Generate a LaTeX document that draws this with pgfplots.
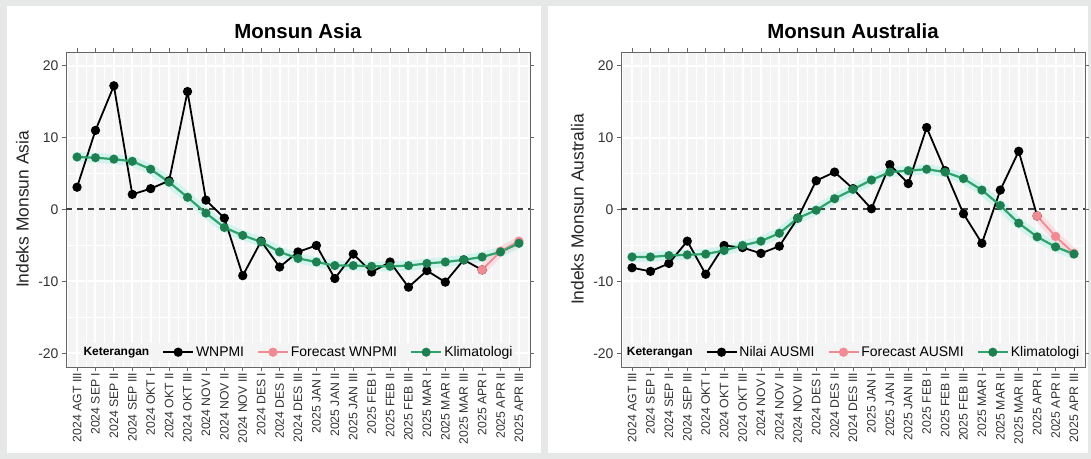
\documentclass[border=0pt]{standalone}
\usepackage{pgfplots}
\usepackage{pgfplotstable}
\pgfplotsset{compat=1.18}
\usepackage{fontspec}
\setmainfont{Liberation Sans}
\definecolor{outerbg}{HTML}{E6E8E7}
\definecolor{panelbg}{HTML}{F4F4F4}
\definecolor{climc}{HTML}{2FA36B}
\definecolor{climdark}{HTML}{1E8050}
\definecolor{fcstc}{HTML}{F08A93}
\definecolor{glowc}{HTML}{BDF2EA}
\definecolor{glowp}{HTML}{FBD0D6}
\definecolor{axgray}{HTML}{666666}
\definecolor{txtgray}{HTML}{333333}

\pgfplotstableread{
i obs fc cl
0 3.1 nan 7.3
1 11.0 nan 7.2
2 17.2 nan 7.0
3 2.1 nan 6.7
4 2.9 nan 5.6
5 4.0 nan 3.8
6 16.4 nan 1.7
7 1.3 nan -0.5
8 -1.2 nan -2.5
9 -9.2 nan -3.6
10 -4.4 nan -4.5
11 -8.0 nan -5.9
12 -5.9 nan -6.8
13 -5.0 nan -7.3
14 -9.6 nan -7.8
15 -6.2 nan -7.8
16 -8.7 nan -7.9
17 -7.3 nan -7.9
18 -10.8 nan -7.8
19 -8.5 nan -7.5
20 -10.1 nan -7.3
21 -7.0 nan -7.0
22 -8.4 -8.4 -6.6
23 nan -5.8 -5.9
24 nan -4.4 -4.7
}\asia

\pgfplotstableread{
i obs fc cl
0 -8.1 nan -6.6
1 -8.6 nan -6.6
2 -7.5 nan -6.4
3 -4.4 nan -6.3
4 -9.0 nan -6.2
5 -5.0 nan -5.7
6 -5.3 nan -5.0
7 -6.1 nan -4.4
8 -5.1 nan -3.3
9 -1.2 nan -1.2
10 4.0 nan -0.1
11 5.2 nan 1.5
12 2.9 nan 2.8
13 0.1 nan 4.1
14 6.25 nan 5.2
15 3.6 nan 5.4
16 11.4 nan 5.6
17 5.4 nan 5.2
18 -0.6 nan 4.3
19 -4.7 nan 2.7
20 2.7 nan 0.55
21 8.1 nan -1.9
22 -0.9 -0.9 -3.8
23 nan -3.75 -5.2
24 nan -6.1 -6.2
}\aus

\pgfplotsset{
  monsun/.style={
    scale only axis, width=464bp, height=315bp,
    anchor=south west,
    xmin=-0.6, xmax=24.6, ymin=-21.9, ymax=21.9,
    axis background/.style={fill=panelbg},
    xtick={0,...,24},
    xticklabels={2024 AGT III,2024 SEP I,2024 SEP II,2024 SEP III,2024 OKT I,2024 OKT II,2024 OKT III,2024 NOV I,2024 NOV II,2024 NOV III,2024 DES I,2024 DES II,2024 DES III,2025 JAN I,2025 JAN II,2025 JAN III,2025 FEB I,2025 FEB II,2025 FEB III,2025 MAR I,2025 MAR II,2025 MAR III,2025 APR I,2025 APR II,2025 APR III},
    xticklabel style={rotate=90, anchor=east, font=\fontsize{12.3}{12.3}\selectfont, text=txtgray, inner sep=1.5bp},
    ytick={-20,-10,0,10,20},
    minor ytick={-15,-5,5,15},
    minor xtick={-0.5,0.5,...,24.5},
    yticklabel style={font=\fontsize{14}{14}\selectfont, text=txtgray},
    /pgf/number format/assume math mode=true,
    grid=both,
    major grid style={white, line width=2bp},
    minor grid style={white, line width=0.9bp},
    axis line style={axgray, line width=0.9bp},
    tick style={axgray, line width=0.8bp},
    tick align=outside, major tick length=4bp, minor tick length=0pt,
    ylabel style={at={(axis description cs:-0.094,0.5)}, anchor=center, font=\fontsize{17.5}{17.5}\selectfont, text=black!85},
    title style={at={(axis description cs:0.5,1.048)}, anchor=center, font=\bfseries\fontsize{20.5}{20.5}\selectfont},
    legend style={at={(axis description cs:0.5,0.047)}, anchor=center, draw=none, fill=panelbg,
      font=\fontsize{14}{14}\selectfont, inner sep=1bp,
      /tikz/every even column/.append style={column sep=11bp}},
    legend columns=-1,
    legend image code/.code={%
      \draw[mark repeat=2,mark phase=2,##1] plot coordinates {(0bp,0bp) (15bp,0bp) (30bp,0bp)};},
  },
  obsst/.style={black, line width=1.8bp, mark=*, mark size=3.7bp, mark options={solid, fill=black}},
  fcstst/.style={fcstc, line width=1.8bp, mark=*, mark size=3.7bp, mark options={solid, fill=fcstc}},
  climst/.style={climc, line width=2.2bp, mark=*, mark size=3.4bp, mark options={solid, fill=climdark, draw=climdark}},
}

\begin{document}
\begin{tikzpicture}
\path[use as bounding box] (0,0) rectangle (1091bp,459bp);
\fill[outerbg] (0,0) rectangle (1091bp,459bp);
\fill[white] (7bp,6bp) rectangle (541bp,453bp);
\fill[white] (548bp,6bp) rectangle (1088bp,453bp);

\begin{axis}[monsun, at={(66bp,92bp)}, title={Monsun Asia}, ylabel={Indeks Monsun Asia}]
\addplot[glowc, line width=10bp, opacity=0.6, line join=round, line cap=round, forget plot] table[x=i,y=cl]{\asia};
\addplot[glowp, line width=9bp, opacity=0.6, line join=round, line cap=round, forget plot] table[x=i,y=fc]{\asia};
\addplot[black!75, line width=2bp, dash pattern=on 6bp off 5bp, forget plot] coordinates {(-0.6,0) (24.6,0)};
\addplot[obsst, forget plot] table[x=i,y=obs]{\asia};
\addplot[fcstst, forget plot] table[x=i,y=fc]{\asia};
\addplot[climst, forget plot] table[x=i,y=cl]{\asia};
\addlegendimage{empty legend}
\addlegendentry{\bfseries\fontsize{12}{12}\selectfont Keterangan}
\addlegendimage{obsst}
\addlegendentry{WNPMI}
\addlegendimage{fcstst}
\addlegendentry{Forecast WNPMI}
\addlegendimage{climst}
\addlegendentry{Klimatologi}
\end{axis}

\begin{axis}[monsun, at={(621bp,92bp)}, title={Monsun Australia}, ylabel={Indeks Monsun Australia}]
\addplot[glowc, line width=10bp, opacity=0.6, line join=round, line cap=round, forget plot] table[x=i,y=cl]{\aus};
\addplot[glowp, line width=9bp, opacity=0.6, line join=round, line cap=round, forget plot] table[x=i,y=fc]{\aus};
\addplot[black!75, line width=2bp, dash pattern=on 6bp off 5bp, forget plot] coordinates {(-0.6,0) (24.6,0)};
\addplot[obsst, forget plot] table[x=i,y=obs]{\aus};
\addplot[fcstst, forget plot] table[x=i,y=fc]{\aus};
\addplot[climst, forget plot] table[x=i,y=cl]{\aus};
\addlegendimage{empty legend}
\addlegendentry{\bfseries\fontsize{12}{12}\selectfont Keterangan}
\addlegendimage{obsst}
\addlegendentry{Nilai AUSMI}
\addlegendimage{fcstst}
\addlegendentry{Forecast AUSMI}
\addlegendimage{climst}
\addlegendentry{Klimatologi}
\end{axis}
\end{tikzpicture}
\end{document}
